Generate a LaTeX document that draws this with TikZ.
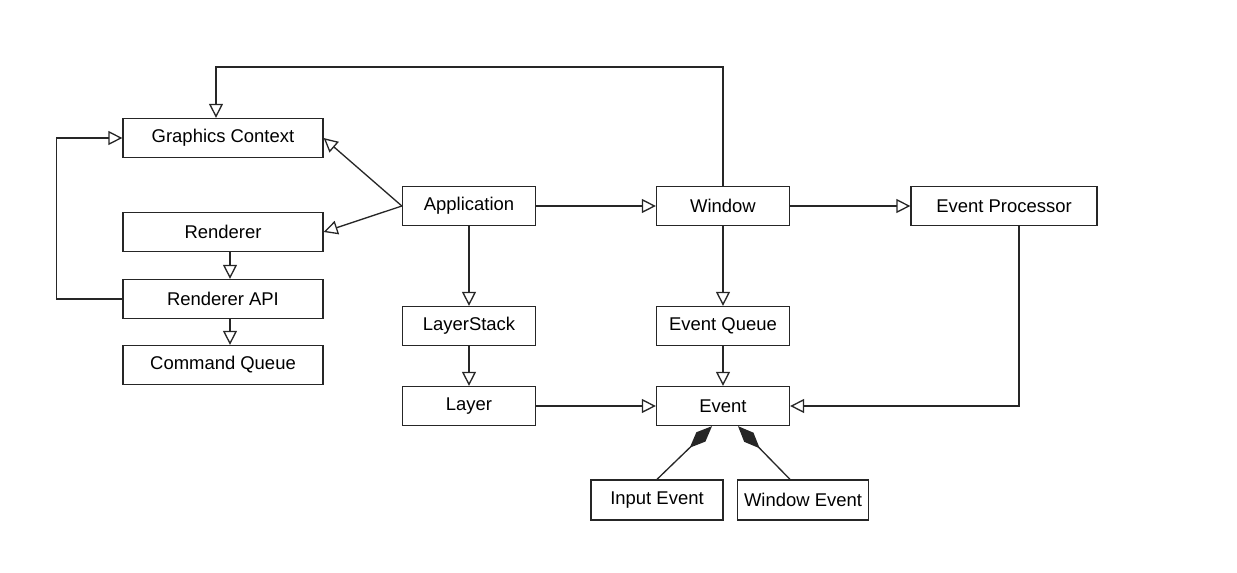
\documentclass[tikz,border=0pt]{standalone}
\usepackage{fontspec}
\setmainfont{Liberation Sans}
\usetikzlibrary{arrows.meta,positioning,calc}

\begin{document}
\begin{tikzpicture}[x=0.02cm,y=-0.02cm,line width=0.75pt,draw=black!85,
  >={Triangle[open,length=0.28cm,width=0.28cm]},
  cls/.style={draw,rectangle,minimum height=0.78cm,font=\fontsize{10.5}{12}\selectfont,inner sep=0pt},
  wide/.style={cls,minimum width=4cm},
  mid/.style={cls,minimum width=2.66cm},
  comp/.style={-{Diamond[length=0.62cm,width=0.26cm]}}]
\useasboundingbox (0,0) rectangle (1237,572);
\node[wide] (gc) at (223,138) {Graphics Context}; \node[wide] (ren) at (223,232) {Renderer};
\node[wide] (api) at (223,299) {Renderer API}; \node[wide] (cq) at (223,365) {Command Queue};
\node[mid] (app) at (469,206) {Application}; \node[mid] (ls) at (469,326) {LayerStack}; \node[mid] (lay) at (469,406) {Layer};
\node[mid] (win) at (723,206) {Window}; \node[mid] (eq) at (723,326) {Event Queue}; \node[mid] (ev) at (723,406) {Event};
\node[cls,minimum width=3.72cm] (ep) at (1004,206) {Event Processor};
\node[cls,minimum width=2.64cm,minimum height=0.8cm] (inp) at (657,500) {Input Event};
\node[cls,minimum width=2.62cm,minimum height=0.8cm] (wev) at (803,500) {Window Event};
\coordinate (top) at (470,67);
% window and renderer side
\draw[->] (win.north) |- (top) -| ([xshift=-0.14cm]gc.north);
\draw[->] (api.west) -- ++(-66,0) |- (gc.west);
\draw[->] (app.west) -- (gc.east); \draw[->] (app.west) -- (ren.east);
\draw[->] ([xshift=0.14cm]ren.south) -- ([xshift=0.14cm]api.north);
\draw[->] ([xshift=0.14cm]api.south) -- ([xshift=0.14cm]cq.north);
% application and events
\draw[->] (app) -- (win); \draw[->] (win) -- (ep);
\draw[->] (app) -- (ls); \draw[->] (ls) -- (lay); \draw[->] (lay) -- (ev);
\draw[->] (win) -- (eq); \draw[->] (eq) -- (ev);
\draw[->] ([xshift=0.3cm]ep.south) |- (ev.east);
\draw[comp,fill=black] (inp.north) -- ([xshift=-0.22cm]ev.south);
\draw[comp,fill=black] ([xshift=-0.26cm]wev.north) -- ([xshift=0.3cm]ev.south);
\end{tikzpicture}
\end{document}
